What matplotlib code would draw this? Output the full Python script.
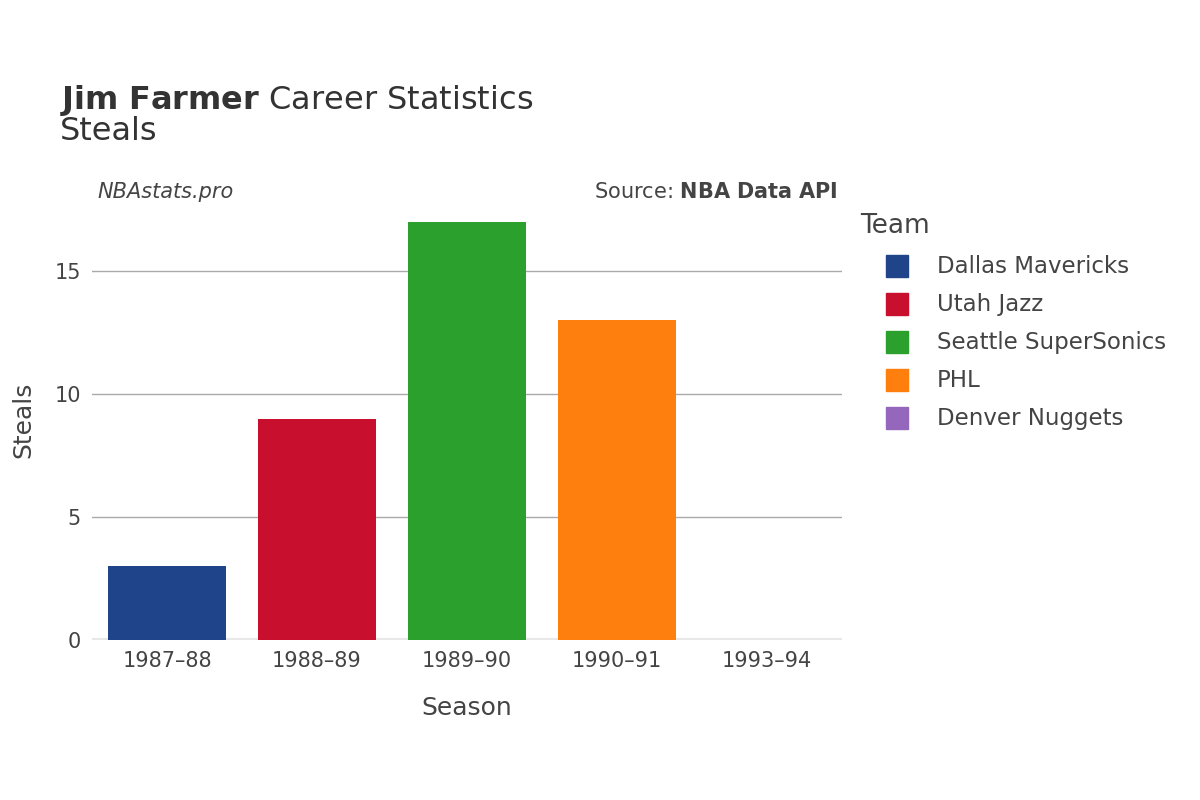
import matplotlib
matplotlib.use("Agg")
import matplotlib.pyplot as plt
from matplotlib.lines import Line2D

seasons = ["1987–88", "1988–89", "1989–90", "1990–91", "1993–94"]
teams = ["Dallas Mavericks", "Utah Jazz", "Seattle SuperSonics", "PHL", "Denver Nuggets"]
steals = [3, 9, 17, 13, 0]
colors = ["#1f4489", "#c8102e", "#2ca02c", "#ff7f0e", "#9467bd"]
yticks = [0, 5, 10, 15]

plt.rcParams["font.family"] = "DejaVu Sans"
fig = plt.figure(figsize=(12, 8), dpi=100)
ax = fig.add_axes([0.0767, 0.2, 0.625, 0.55])
x = list(range(len(seasons)))
ax.bar(x, steals, width=0.79, color=colors, zorder=3)
ax.set_xlim(-0.5, 4.5)
ax.set_ylim(0, 17.9)
ax.set_yticks(yticks)
ax.set_xticks(x)
ax.set_xticklabels(seasons)
ax.tick_params(axis="both", length=0, labelsize=15, colors="#444444", pad=8)
ax.grid(axis="y", color="#aaaaaa", linewidth=1, zorder=0)
for s in ax.spines.values():
    s.set_visible(False)
ax.axhline(0, color="#e8e8e8", linewidth=3, zorder=2)
ax.set_xlabel("Season", fontsize=18, color="#444444", labelpad=18)
ax.set_ylabel("Steals", fontsize=18, color="#444444", labelpad=14)

fig.text(0.05, 0.875, "$\\bf{Jim\\ Farmer}$ Career Statistics", fontsize=23, color="#333333", va="center")
fig.text(0.05, 0.835, "Steals", fontsize=23, color="#333333", va="center")
fig.text(0.081, 0.76, "NBAstats.pro", fontsize=15, style="italic", color="#444444", va="center")
fig.text(0.698, 0.76, "Source: $\\bf{NBA\\ Data\\ API}$", fontsize=15, color="#444444", va="center", ha="right")

fig.text(0.717, 0.717, "Team", fontsize=19, color="#444444", va="center")
for i, (t, c) in enumerate(zip(teams, colors)):
    yy = 0.667 - i * 0.0475
    fig.add_artist(Line2D([0.7475], [yy], marker="s", markersize=16, color=c,
                          transform=fig.transFigure, linestyle=""))
    fig.text(0.781, yy, t, fontsize=16.5, color="#444444", va="center")

fig.savefig("out.png")
